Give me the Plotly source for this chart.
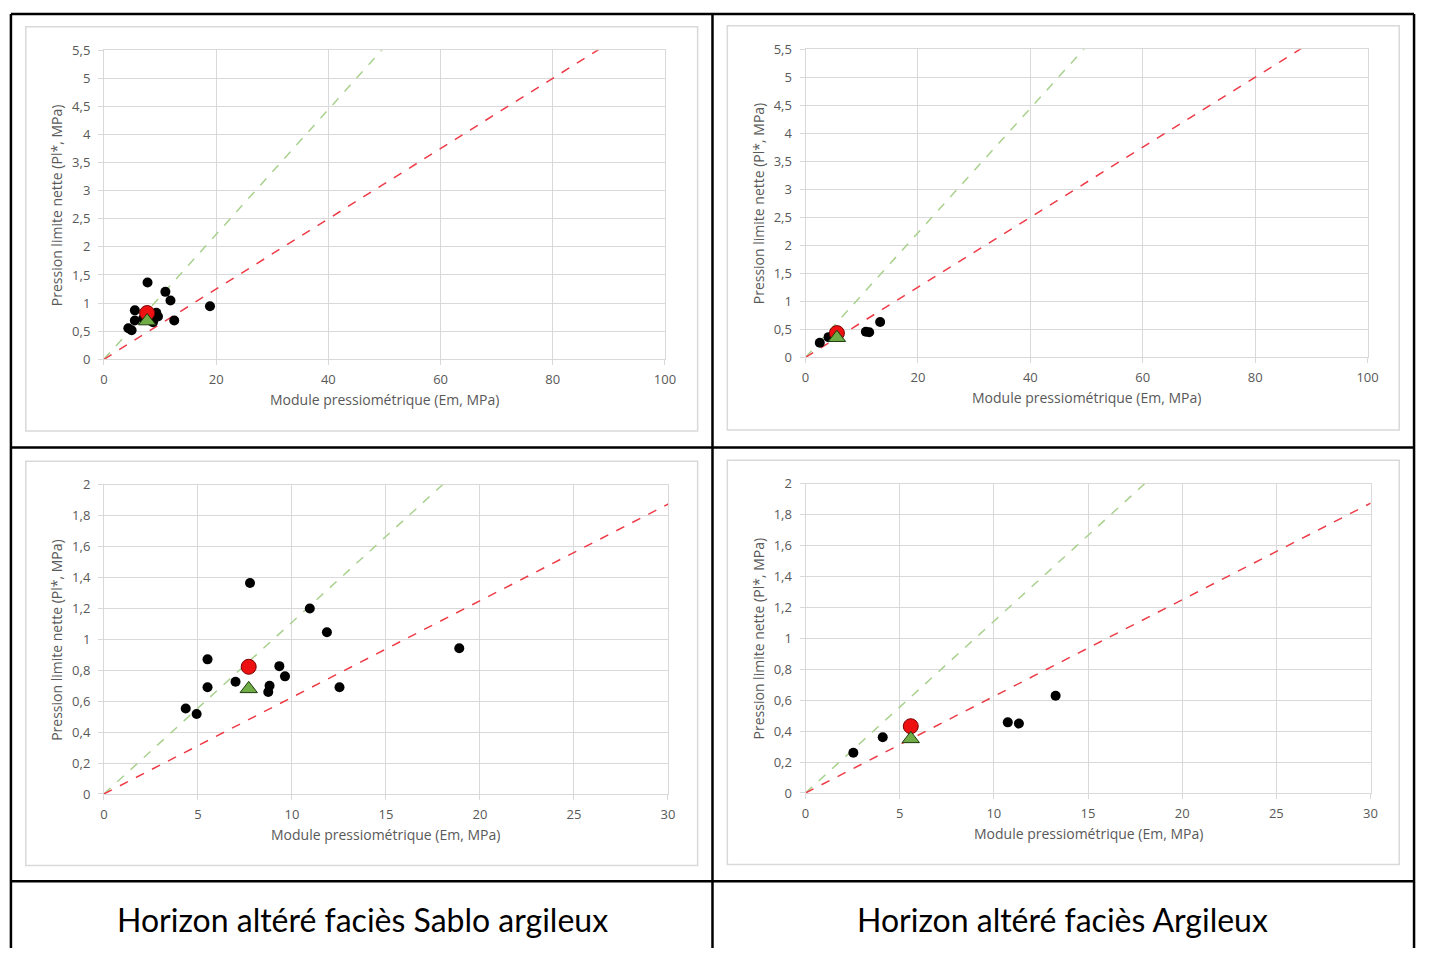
import plotly.graph_objects as go

W, H = 1430, 957

# Horizon altéré faciès Sablo argileux : mesures individuelles (Em, Pl*)
sablo_em = [7.77, 10.95, 11.86, 5.51, 9.33, 9.63, 7.0, 5.51, 8.81, 8.74, 12.53, 4.35, 4.93, 18.9]
sablo_pl = [1.365, 1.20, 1.046, 0.871, 0.827, 0.761, 0.726, 0.69, 0.70, 0.66, 0.69, 0.553, 0.517, 0.943]
sablo_moy_em, sablo_moy_pl = 7.7, 0.823
sablo_med_em, sablo_med_pl = 7.7, 0.68

# Horizon altéré faciès Argileux
argile_em = [2.54, 4.10, 10.74, 11.33, 13.28]
argile_pl = [0.26, 0.36, 0.457, 0.449, 0.629]
argile_moy_em, argile_moy_pl = 5.59, 0.432
argile_med_em, argile_med_pl = 5.59, 0.35

# Droites de rapport Em/Pl* = 16 et Em/Pl* = 9
ratio_em = [0, 100]
ratio_16 = [0, 100 / 16]
ratio_9 = [0, 100 / 9]

# Graduations
x_ticks_large = [0, 20, 40, 60, 80, 100]
x_text_large = ["0", "20", "40", "60", "80", "100"]
y_ticks_large = [0, 0.5, 1, 1.5, 2, 2.5, 3, 3.5, 4, 4.5, 5, 5.5]
y_text_large = ["0", "0,5", "1", "1,5", "2", "2,5", "3", "3,5", "4", "4,5", "5", "5,5"]
x_ticks_zoom = [0, 5, 10, 15, 20, 25, 30]
x_text_zoom = ["0", "5", "10", "15", "20", "25", "30"]
y_ticks_zoom = [0, 0.2, 0.4, 0.6, 0.8, 1, 1.2, 1.4, 1.6, 1.8, 2]
y_text_zoom = ["0", "0,2", "0,4", "0,6", "0,8", "1", "1,2", "1,4", "1,6", "1,8", "2"]

captions = ["Horizon altéré faciès Sablo argileux", "Horizon altéré faciès Argileux"]
x_title = "Module pressiométrique (Em, MPa)"
y_title = "Pression limite nette (Pl*, MPa)"

GRID = "#d9d9d9"
TXT = "#595959"
FONT = "Open Sans, DejaVu Sans, sans-serif"


def px_x(p):
    return p / W


def px_y(p):
    return 1 - p / H


# (suffixe d'axe, zone de tracé en pixels [x0, x1, y_haut, y_bas], échelle, jeu de données)
panels = [
    ("", (101, 668, 42, 357), "large", "sablo"),
    ("2", (810, 1378, 41, 355), "large", "argile"),
    ("3", (101, 671, 485, 800), "zoom", "sablo"),
    ("4", (810, 1381, 484, 799), "zoom", "argile"),
]

data = {
    "sablo": (sablo_em, sablo_pl, sablo_moy_em, sablo_moy_pl, sablo_med_em, sablo_med_pl),
    "argile": (argile_em, argile_pl, argile_moy_em, argile_moy_pl, argile_med_em, argile_med_pl),
}

fig = go.Figure()
layout = {}
annotations = []
shapes = []

for suffix, (x0, x1, yt, yb), scale, key in panels:
    xa = "x" + suffix
    ya = "y" + suffix
    em, pl, mem, mpl, dem, dpl = data[key]

    fig.add_trace(go.Scatter(x=ratio_em, y=ratio_9, mode="lines", xaxis=xa, yaxis=ya,
                             line=dict(color="#a9d18e", width=1.5, dash="dash"),
                             showlegend=False, hoverinfo="skip"))
    fig.add_trace(go.Scatter(x=ratio_em, y=ratio_16, mode="lines", xaxis=xa, yaxis=ya,
                             line=dict(color="#ee3b47", width=1.5, dash="dash"),
                             showlegend=False, hoverinfo="skip"))
    fig.add_trace(go.Scatter(x=em, y=pl, mode="markers", xaxis=xa, yaxis=ya,
                             marker=dict(color="black", size=10),
                             showlegend=False))
    fig.add_trace(go.Scatter(x=[mem], y=[mpl], mode="markers", xaxis=xa, yaxis=ya,
                             marker=dict(color="#ee1111", size=15,
                                         line=dict(color="#7a0000", width=1)),
                             showlegend=False))
    fig.add_trace(go.Scatter(x=[dem], y=[dpl], mode="markers", xaxis=xa, yaxis=ya,
                             marker=dict(color="#70ad47", size=15, symbol="triangle-up",
                                         line=dict(color="#1e3a0e", width=1)),
                             showlegend=False))

    if scale == "large":
        xt, xtt, yv, yvt, xr, yr = x_ticks_large, x_text_large, y_ticks_large, y_text_large, [0, 100], [0, 5.5]
    else:
        xt, xtt, yv, yvt, xr, yr = x_ticks_zoom, x_text_zoom, y_ticks_zoom, y_text_zoom, [0, 30], [0, 2]

    axis_common = dict(showgrid=True, gridcolor=GRID, gridwidth=1, zeroline=False,
                       showline=True, linecolor=GRID, linewidth=1, mirror=True,
                       ticks="outside", ticklen=5, tickcolor=GRID,
                       tickfont=dict(family=FONT, size=13, color=TXT))
    layout["xaxis" + suffix] = dict(axis_common, domain=[px_x(x0), px_x(x1)], range=xr,
                                    tickvals=xt, ticktext=xtt, anchor=ya, fixedrange=True,
                                    ticklabelstandoff=3)
    layout["yaxis" + suffix] = dict(axis_common, domain=[px_y(yb), px_y(yt)], range=yr,
                                    tickvals=yv, ticktext=yvt, anchor=xa, fixedrange=True,
                                    ticklabelstandoff=5)

    # titres des axes
    annotations.append(dict(text=x_title, x=px_x((x0 + x1) / 2), y=px_y(yb + 41),
                            xref="paper", yref="paper", showarrow=False,
                            xanchor="center", yanchor="middle",
                            font=dict(family=FONT, size=14, color=TXT)))
    annotations.append(dict(text=y_title, x=px_x(x0 - 48), y=px_y((yt + yb) / 2 + 1),
                            xref="paper", yref="paper", showarrow=False, textangle=-90,
                            xanchor="center", yanchor="middle",
                            font=dict(family=FONT, size=14, color=TXT)))
    # cadre de la zone de graphique
    shapes.append(dict(type="rect", xref="paper", yref="paper",
                       x0=px_x(x0 - 79), x1=px_x(x0 + 600), y0=px_y(yt - 24), y1=px_y(yt + 388),
                       line=dict(color="#d9d9d9", width=1.5), layer="below"))

# légendes du tableau
for cx, text in zip([362, 1070], captions):
    annotations.append(dict(text=text, x=px_x(cx), y=px_y(928), xref="paper", yref="paper",
                            showarrow=False, xanchor="center", yanchor="middle",
                            font=dict(family="Lato, sans-serif", size=32, color="black")))

# bordures du tableau
table = dict(color="black", width=2.5)
for (a, b, c, d) in [(7, 5, 7, 957), (1425, 5, 1425, 957), (7, 5, 1425, 5),
                     (716, 5, 716, 957), (7, 447, 1425, 447), (7, 889, 1425, 889)]:
    shapes.append(dict(type="line", xref="paper", yref="paper",
                       x0=px_x(a), y0=px_y(b), x1=px_x(c), y1=px_y(d), line=table))

fig.update_layout(width=W, height=H, margin=dict(l=0, r=0, t=0, b=0),
                  paper_bgcolor="white", plot_bgcolor="white",
                  annotations=annotations, shapes=shapes, showlegend=False, **layout)

fig.write_html("out.html", config={"displayModeBar": False})
